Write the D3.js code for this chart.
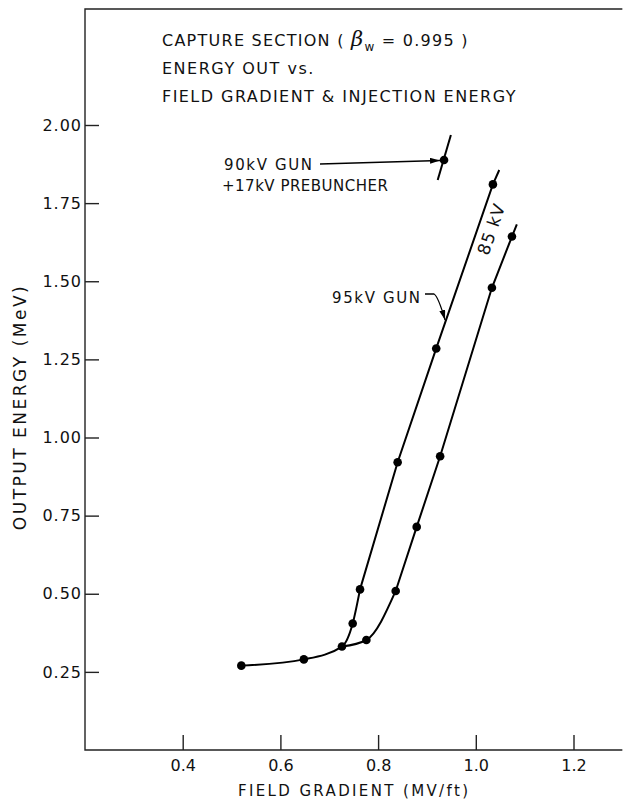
<!DOCTYPE html>
<html>
<head>
<meta charset="utf-8">
<title>Capture Section - Energy Out vs Field Gradient</title>
<script src="https://d3js.org/d3.v7.min.js"></script>
<style>
  body { margin: 0; background: #fff; }
  text { font-family: "DejaVu Sans", sans-serif; fill: #111; }
  .frame { stroke: #222; stroke-width: 1.4px; fill: none; }
  .curve { stroke: #000; stroke-width: 2px; fill: none; }
  .tick line { stroke: #222; stroke-width: 1.4px; }
</style>
</head>
<body>
<svg id="chart" width="623" height="799"></svg>
<script>
// shared low-gradient points (before the two curves split)
const lowX = [0.520, 0.648, 0.726];
const lowY = [0.270, 0.290, 0.331];
// 95 kV gun curve
const gun95X = [0.748, 0.763, 0.840, 0.919, 1.035];
const gun95Y = [0.405, 0.514, 0.921, 1.285, 1.810];
const gun95End = [1.048, 1.856];
// 85 kV curve
const gun85X = [0.776, 0.836, 0.879, 0.927, 1.033, 1.074];
const gun85Y = [0.352, 0.509, 0.714, 0.940, 1.479, 1.643];
const gun85End = [1.084, 1.682];
// 90 kV gun + 17 kV prebuncher, single point with short stroke through it
const preX = [0.935];
const preY = [1.888];
const preSegX = [0.922, 0.949];
const preSegY = [1.824, 1.968];

const xTicks = [0.4, 0.6, 0.8, 1.0, 1.2];
const xTickLabels = ["0.4", "0.6", "0.8", "1.0", "1.2"];
const yTicks = [0.25, 0.5, 0.75, 1.0, 1.25, 1.5, 1.75, 2.0];
const yTickLabels = ["0.25", "0.50", "0.75", "1.00", "1.25", "1.50", "1.75", "2.00"];
const xMin = 0.2, xMax = 1.3, yMin = 0, yMax = 2.371;

var svg = d3.select("#chart");

let x = d3.scaleLinear().domain([0.2, 1.2]).range([85, 573.5]);
let y = d3.scaleLinear().domain([0, 2]).range([750, 125]);

// frame: left, top and bottom (open on the right)
svg.append("path")
  .attr("class", "frame")
  .attr("d", d3.line()([[x(xMax), y(yMax)], [x(xMin), y(yMax)], [x(xMin), y(yMin)], [x(xMax), y(yMin)]]));

// y axis, ticks point inward
let yAxis = svg.append("g")
  .attr("transform", `translate(${x(xMin)},0)`)
  .call(d3.axisLeft(y).tickValues(yTicks).tickSize(-14).tickPadding(3)
    .tickFormat((d, i) => yTickLabels[i]));
yAxis.select(".domain").remove();
yAxis.selectAll("text").attr("font-size", 16).attr("letter-spacing", 1)
  .attr("font-family", "DejaVu Sans").attr("fill", "#111");

// x axis, ticks point up
let xAxis = svg.append("g")
  .attr("transform", `translate(0,${y(yMin)})`)
  .call(d3.axisBottom(x).tickValues(xTicks).tickSize(-15).tickPadding(10)
    .tickFormat((d, i) => xTickLabels[i]));
xAxis.select(".domain").remove();
xAxis.selectAll("text").attr("font-size", 16)
  .attr("font-family", "DejaVu Sans").attr("fill", "#111");

// axis titles
svg.append("text")
  .attr("x", 238).attr("y", 796)
  .attr("font-size", 15)
  .attr("textLength", 230).attr("lengthAdjust", "spacing")
  .text("FIELD GRADIENT (MV/ft)");

svg.append("text")
  .attr("transform", "translate(26,407) rotate(-90)")
  .attr("text-anchor", "middle")
  .attr("font-size", 17).attr("letter-spacing", 2.5)
  .text("OUTPUT ENERGY (MeV)");

// title block
let title = svg.append("g").attr("font-size", 16).attr("letter-spacing", 1.5);
let t1 = title.append("text").attr("x", 162).attr("y", 46)
  .attr("textLength", 307).attr("lengthAdjust", "spacing");
t1.append("tspan").text("CAPTURE SECTION  ( ");
t1.append("tspan").attr("font-style", "italic").attr("font-size", 21).attr("font-family", "DejaVu Serif").text("β");
t1.append("tspan").attr("font-size", 12).attr("dy", 5).text("w");
t1.append("tspan").attr("dy", -5).text(" = 0.995 )");
title.append("text").attr("x", 162).attr("y", 74).text("ENERGY OUT vs.");
title.append("text").attr("x", 162).attr("y", 102)
  .attr("textLength", 355).attr("lengthAdjust", "spacing").text("FIELD GRADIENT & INJECTION ENERGY");

// curves: smooth knee at the bottom, straight runs above
let smooth = d3.line().x(d => x(d[0])).y(d => y(d[1])).curve(d3.curveMonotoneX);
let straight = d3.line().x(d => x(d[0])).y(d => y(d[1]));
let low = lowX.map((v, i) => [v, lowY[i]]);
let pts95 = gun95X.map((v, i) => [v, gun95Y[i]]);
let pts85 = gun85X.map((v, i) => [v, gun85Y[i]]);

svg.append("path").attr("class", "curve")
  .attr("d", smooth(low.concat(pts95.slice(0, 2))));
svg.append("path").attr("class", "curve")
  .attr("d", straight(pts95.slice(1).concat([gun95End])));
svg.append("path").attr("class", "curve")
  .attr("d", smooth([low[low.length - 1]].concat(pts85.slice(0, 2))));
svg.append("path").attr("class", "curve")
  .attr("d", straight(pts85.slice(1).concat([gun85End])));
svg.append("path").attr("class", "curve")
  .attr("d", straight(preSegX.map((v, i) => [v, preSegY[i]])));

// data dots
let allPts = low.concat(pts95, pts85, preX.map((v, i) => [v, preY[i]]));
svg.append("g").selectAll("circle")
  .data(allPts)
  .enter().append("circle")
    .attr("cx", d => x(d[0]))
    .attr("cy", d => y(d[1]))
    .attr("r", 4.3)
    .attr("fill", "#000");

// arrow marker
svg.append("defs").append("marker")
  .attr("id", "arrow")
  .attr("viewBox", "0 0 10 6")
  .attr("refX", 10).attr("refY", 3)
  .attr("markerWidth", 10).attr("markerHeight", 6)
  .attr("markerUnits", "userSpaceOnUse")
  .attr("orient", "auto")
  .append("path").attr("d", "M0,0 L10,3 L0,6 Z").attr("fill", "#000");

// 90 kV gun annotation
let px = x(preX[0]), py = y(preY[0]);
svg.append("text").attr("x", 224).attr("y", 170).attr("font-size", 15)
  .attr("textLength", 88).attr("lengthAdjust", "spacing").text("90kV GUN");
svg.append("text").attr("x", 222).attr("y", 191).attr("font-size", 15)
  .attr("textLength", 166).attr("lengthAdjust", "spacing").text("+17kV PREBUNCHER");
svg.append("path")
  .attr("d", d3.line()([[320, 164], [px - 4, py + 0.5]]))
  .attr("stroke", "#000").attr("stroke-width", 1.3).attr("fill", "none")
  .attr("marker-end", "url(#arrow)");

// 95 kV gun annotation, arrow hooks down onto the 95 kV curve
let tipY = 1.376;
let tipX = d3.scaleLinear().domain([gun95Y[3], gun95Y[4]]).range([gun95X[3], gun95X[4]])(tipY);
svg.append("text").attr("x", 332).attr("y", 303).attr("font-size", 15)
  .attr("textLength", 88).attr("lengthAdjust", "spacing").text("95kV GUN");
svg.append("path")
  .attr("d", `M425,294 L434,294 Q438,296 ${x(tipX) - 1},${y(tipY)}`)
  .attr("stroke", "#000").attr("stroke-width", 1.3).attr("fill", "none")
  .attr("marker-end", "url(#arrow)");

// 85 kV label along the right curve
svg.append("text")
  .attr("transform", "translate(497,231) rotate(-71)")
  .attr("text-anchor", "middle")
  .attr("font-size", 17).attr("letter-spacing", 1)
  .text("85 kV");
</script>
</body>
</html>
